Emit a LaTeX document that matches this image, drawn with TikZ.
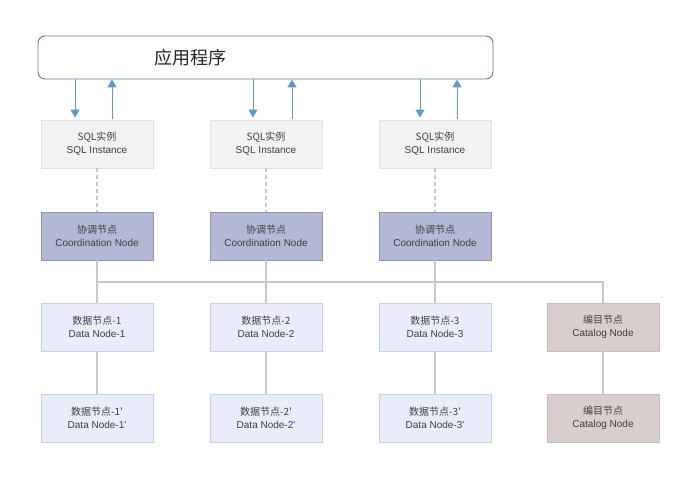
\documentclass[tikz,border=0pt]{standalone}
\usepackage{fontspec}
\setmainfont{Liberation Sans}
\newfontfamily\cjk{Noto Sans CJK SC}
\usepackage{tikz}
\usetikzlibrary{positioning, arrows.meta, calc}

\definecolor{appline}{HTML}{5C7CA8}
\definecolor{flowc}{HTML}{5B9BD5}
\definecolor{sqlfill}{HTML}{F2F2F2}
\definecolor{sqlline}{HTML}{E2E2E2}
\definecolor{crdfill}{HTML}{B3B8D4}
\definecolor{crdline}{HTML}{8D95BE}
\definecolor{datfill}{HTML}{E8EDF9}
\definecolor{datline}{HTML}{C2D0F2}
\definecolor{catfill}{HTML}{D8CECE}
\definecolor{catline}{HTML}{C8BCBC}
\definecolor{wire}{HTML}{C8C8C8}
\definecolor{txt}{HTML}{404040}

\tikzset{
    box/.style={draw, line width=0.9pt, minimum width=112pt, minimum height=48pt,
        inner sep=0pt, align=center, text=txt, font=\fontsize{10}{13}\selectfont},
    sqlbox/.style={box, fill=sqlfill, draw=sqlline},
    crdbox/.style={box, fill=crdfill, draw=crdline},
    datbox/.style={box, fill=datfill, draw=datline},
    catbox/.style={box, fill=catfill, draw=catline},
    appbox/.style={draw=appline, line width=0.9pt, rounded corners=7pt, fill=white,
        minimum width=455pt, minimum height=43pt, inner sep=0pt},
    link/.style={draw=wire, line width=1.2pt},
    dashlink/.style={draw=wire, line width=1.2pt, dash pattern=on 4pt off 3pt},
    flow/.style={draw=flowc, line width=1pt, -{Triangle[width=9pt,length=8pt]}},
}

\begin{document}
\begin{tikzpicture}[x=1pt, y=-1pt]
    \useasboundingbox (0,0) rectangle (693,486);

    % application
    \node[appbox] (app) at (265.5,57.5) {};
    \node[text=black!85, font=\cjk\fontsize{18}{18}\selectfont] (appname) at (190,58) {应用程序};

    % columns
    \foreach \n/\x in {1/97, 2/266, 3/435}
    {
        \node[sqlbox] (s\n) at (\x,144) {{\cjk SQL实例}\\SQL Instance};
        \node[crdbox] (c\n) at (\x,236) {{\cjk 协调节点}\\Coordination Node};
        \node[datbox] (d\n) at (\x,327) {{\cjk 数据节点-\n}\\Data Node-\n};
        \node[datbox] (e\n) at (\x,418) {{\cjk 数据节点-\n\textquotesingle}\\Data Node-\n\textquotesingle};
    }

    % catalog
    \node[catbox] (k1) at (603,327) {{\cjk 编目节点}\\Catalog Node};
    \node[catbox] (k2) at (603,418) {{\cjk 编目节点}\\Catalog Node};

    % requests and replies
    \foreach \n/\dx/\ux in {1/-22/15, 2/-13/26, 3/-15/22}
    {
        \coordinate (dn\n) at ($(s\n.north)+(\dx,0)$);
        \coordinate (up\n) at ($(s\n.north)+(\ux,0)$);
        \draw[flow, shorten >=2pt] (app.south -| dn\n) -- (dn\n);
        \draw[flow, shorten <=1pt] (up\n) -- (app.south -| up\n);
    }

    % links
    \foreach \n in {1,2,3}
    {
        \draw[dashlink] (s\n.south) -- (c\n.north);
        \draw[link] (c\n.south) -- (d\n.north);
        \draw[link] (d\n.south) -- (e\n.north);
    }
    \coordinate (bus) at (0,282);
    \draw[link] (c1.south |- bus) -- (k1.north |- bus) -- (k1.north);
    \draw[link] (k1.south) -- (k2.north);
\end{tikzpicture}
\end{document}
